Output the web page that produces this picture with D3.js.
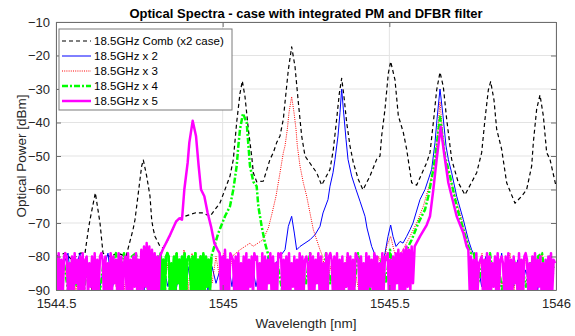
<!DOCTYPE html>
<html>
<head>
<meta charset="utf-8">
<script src="https://cdn.jsdelivr.net/npm/d3@7"></script>
<style>
  body { margin: 0; background: #fff; }
  text { font-family: "Liberation Sans", Arial, sans-serif; }
</style>
</head>
<body>
<div id="chart"></div>
<script>
// ----------- DATA ------------
const xTicks = [1544.5, 1545, 1545.5, 1546];
const xTickLabels = ['1544.5', '1545', '1545.5', '1546'];
const yTicks = [-90, -80, -70, -60, -50, -40, -30, -20, -10];
const legendLabels = ['18.5GHz Comb (x2 case)', '18.5GHz x 2', '18.5GHz x 3', '18.5GHz x 4', '18.5GHz x 5'];

// comb (x2 case), [wavelength nm, dBm]
const combPts = [
  [1544.500, -80], [1544.527, -79], [1544.548, -81], [1544.572, -79], [1544.587, -79],
  [1544.597, -72], [1544.602, -69], [1544.618, -61], [1544.632, -70], [1544.641, -79],
  [1544.662, -80], [1544.686, -79], [1544.710, -80], [1544.731, -72], [1544.737, -69],
  [1544.747, -61], [1544.757, -53], [1544.762, -51.2], [1544.772, -56], [1544.782, -62],
  [1544.787, -69], [1544.791, -71.5], [1544.797, -74], [1544.812, -77], [1544.821, -77.5],
  [1544.836, -75], [1544.863, -69], [1544.887, -68], [1544.917, -67], [1544.941, -67],
  [1544.962, -68], [1544.992, -64], [1545.022, -56], [1545.032, -51], [1545.042, -40],
  [1545.052, -31.3], [1545.059, -27.6], [1545.067, -32.3], [1545.077, -42], [1545.087, -50],
  [1545.092, -55], [1545.102, -57.7], [1545.122, -57.5], [1545.142, -51], [1545.152, -49],
  [1545.162, -46], [1545.172, -44], [1545.182, -39], [1545.187, -34], [1545.197, -24.3],
  [1545.207, -17.4], [1545.217, -23.3], [1545.227, -34], [1545.237, -44], [1545.247, -50],
  [1545.282, -55], [1545.297, -58.7], [1545.322, -54], [1545.332, -48], [1545.342, -39],
  [1545.350, -31.3], [1545.357, -26.8], [1545.364, -32.3], [1545.372, -40], [1545.382, -47],
  [1545.392, -52], [1545.407, -57], [1545.421, -60.1], [1545.442, -56], [1545.462, -51],
  [1545.472, -50], [1545.477, -44], [1545.487, -36], [1545.497, -25.3], [1545.504, -21.8],
  [1545.517, -27.3], [1545.527, -38], [1545.542, -43], [1545.552, -48], [1545.567, -58],
  [1545.582, -58.7], [1545.612, -52], [1545.622, -49], [1545.632, -40], [1545.642, -30.3],
  [1545.652, -25], [1545.662, -29.3], [1545.672, -39], [1545.682, -47], [1545.687, -51],
  [1545.707, -58], [1545.727, -61.6], [1545.762, -55], [1545.777, -49], [1545.787, -39],
  [1545.797, -30.3], [1545.804, -27.8], [1545.814, -33.3], [1545.822, -42], [1545.837, -48],
  [1545.852, -58], [1545.877, -64.1], [1545.897, -62], [1545.912, -60], [1545.927, -53],
  [1545.932, -46], [1545.942, -36], [1545.952, -31.8], [1545.962, -38], [1545.972, -49],
  [1545.982, -51], [1546.000, -59]
];

// x2 (blue)
const x2PeakA = [
  [1545.172, -80], [1545.187, -78], [1545.197, -71], [1545.207, -68], [1545.215, -73],
  [1545.222, -78], [1545.232, -77], [1545.247, -76], [1545.262, -75], [1545.277, -73.5],
  [1545.292, -71], [1545.301, -67], [1545.316, -63], [1545.322, -59], [1545.331, -55],
  [1545.337, -51], [1545.346, -44], [1545.352, -37], [1545.357, -30], [1545.362, -36],
  [1545.370, -45], [1545.376, -51], [1545.387, -56], [1545.400, -60], [1545.412, -63.5],
  [1545.427, -68], [1545.433, -71.5], [1545.447, -77], [1545.457, -79.5]
];
const x2PeakB = [
  [1545.487, -79], [1545.496, -74], [1545.504, -70.6], [1545.511, -74], [1545.520, -77],
  [1545.532, -75.5], [1545.541, -76], [1545.552, -74], [1545.562, -72], [1545.571, -70],
  [1545.592, -63], [1545.607, -60], [1545.627, -54], [1545.637, -46], [1545.643, -39],
  [1545.652, -30], [1545.661, -38], [1545.670, -47], [1545.677, -51], [1545.687, -55],
  [1545.702, -62], [1545.722, -69], [1545.737, -75], [1545.747, -78], [1545.757, -80]
];
const x2Noise1 = [-84, -89, -82, -79, -90, -83, -79, -88, -84, -90,
  -82, -89, -83, -79, -90, -84, -88, -82, -90, -83,
  -89, -84, -90, -82, -88, -83, -90, -84, -89, -82,
  -90, -84, -88, -83, -90, -85, -89, -84, -90, -83,
  -88, -84, -90, -82, -89, -80, -88, -83, -90, -82,
  -89, -83, -90, -80, -88, -82];
const x2Noise2 = [-84, -90, -82];
const x2Noise3 = [-82, -89, -80, -90, -84, -88, -79, -90, -83, -89,
  -81, -90, -84, -88, -80, -90, -83, -89, -82, -85];

// x3 (red)
const x3PeakA = [
  [1545.052, -78], [1545.067, -77], [1545.082, -76], [1545.091, -77], [1545.106, -76],
  [1545.121, -75], [1545.137, -71.5], [1545.147, -67.6], [1545.160, -62], [1545.172, -55],
  [1545.182, -49], [1545.187, -47], [1545.194, -42], [1545.199, -37], [1545.207, -32.3],
  [1545.214, -37], [1545.220, -42], [1545.224, -47], [1545.232, -53], [1545.242, -58],
  [1545.252, -62], [1545.262, -67], [1545.272, -72], [1545.282, -75], [1545.292, -78]
];
const x3PeakB = [
  [1545.541, -78], [1545.562, -74], [1545.582, -70], [1545.602, -65], [1545.622, -58],
  [1545.637, -52], [1545.645, -43], [1545.652, -33.8], [1545.660, -43], [1545.667, -50],
  [1545.677, -55], [1545.697, -62], [1545.717, -69], [1545.732, -75], [1545.742, -78]
];
const x3Noise1 = [-84, -90, -83, -88, -85, -90, -82, -89, -84, -90,
  -83, -88, -85, -90, -82, -89, -84, -90, -83, -88,
  -85, -90, -82, -89, -84, -90, -83, -88, -82, -90,
  -79, -88, -78, -90, -79, -87, -80, -89, -81, -88,
  -80, -87, -79, -88, -80, -79];
const x3Noise2 = [-80, -88, -83, -90, -82, -89, -80, -88, -84, -90,
  -82, -88, -81, -86, -80, -84, -77, -74, -79, -80];
const x3Noise3 = [-80, -86, -79, -90, -83, -88, -80, -89, -84, -79,
  -90, -82, -88, -80, -90, -83, -87, -79, -89, -82, -84];

// x4 (green)
const x4PeakA = [
  [1544.972, -78], [1544.987, -73], [1545.007, -68], [1545.022, -65], [1545.032, -60],
  [1545.042, -53], [1545.047, -47], [1545.052, -42], [1545.061, -37.3], [1545.072, -40],
  [1545.082, -53], [1545.092, -57.7], [1545.102, -59], [1545.107, -65], [1545.117, -71],
  [1545.127, -76], [1545.137, -79.6]
];
const x4PeakB = [
  [1545.552, -78], [1545.567, -75], [1545.587, -70], [1545.607, -66], [1545.617, -62],
  [1545.632, -54], [1545.642, -47], [1545.652, -38.3], [1545.667, -50], [1545.682, -56],
  [1545.702, -65], [1545.722, -72], [1545.737, -77], [1545.745, -79]
];
const x4Noise1 = [-84, -88, -82, -90, -81, -89, -83, -90, -82, -88,
  -84, -90, -81, -89, -82, -79, -88, -79, -90, -80,
  -79, -89, -82, -90, -81, -90];
const x4Noise2 = [-80, -91, -79, -90, -81, -93, -80, -79, -80, -91,
  -82, -90, -80, -92, -79, -88, -81, -91, -80, -90,
  -79, -93, -81, -80, -81, -92, -80, -90, -79, -94,
  -81, -90, -80, -91, -79, -92, -80, -89, -81, -90,
  -80];
const x4Noise3 = [-81, -88, -83, -90, -82, -89, -84, -90, -82, -88,
  -79, -89, -83, -90, -79, -88, -82, -90, -83, -89,
  -82, -90, -79, -88, -82, -90, -81, -89, -80, -88,
  -78, -86, -80, -84];
const x4Noise4 = [-79, -88, -83, -90, -79, -89, -82, -90, -84, -88,
  -81, -90, -83, -89, -82, -90, -80, -79, -88, -80, -84];

// x5 (magenta)
const x5PeakA = [
  [1544.820, -78], [1544.840, -74], [1544.860, -69.6], [1544.870, -68.6], [1544.878, -69],
  [1544.885, -60], [1544.895, -52], [1544.900, -46], [1544.910, -39.5], [1544.920, -44],
  [1544.928, -53], [1544.935, -60], [1544.945, -62], [1544.955, -67], [1544.965, -71],
  [1544.975, -76], [1544.985, -78]
];
const x5PeakB = [
  [1545.576, -77], [1545.592, -74], [1545.612, -70.6], [1545.622, -68], [1545.632, -60],
  [1545.642, -51], [1545.654, -41.3], [1545.664, -49], [1545.677, -58], [1545.687, -62],
  [1545.702, -68], [1545.722, -73], [1545.732, -77]
];
const x5Noise1 = [-80, -92, -79, -90, -81, -93, -80, -79, -80, -91,
  -82, -90, -80, -94, -79, -88, -81, -92, -80, -90,
  -79, -93, -81, -80, -92, -82, -89, -80, -95, -79,
  -91, -81, -90, -80, -79, -81, -92, -80, -90, -82,
  -93, -79, -91, -80, -88, -81, -92, -79, -90, -80,
  -94, -82, -80, -91, -79, -90, -81, -93, -80, -89,
  -79, -92, -81, -90, -78, -91, -77, -89, -76, -90,
  -77, -92, -78, -91, -79, -90, -80, -93, -80];
const x5Noise2 = [-79, -91, -80, -93, -78, -90, -81, -92, -79, -80,
  -81, -92, -80, -90, -79, -94, -82, -90, -80, -91,
  -79, -93, -81, -89, -80, -92, -79, -81, -80, -91,
  -82, -90, -79, -94, -80, -91, -81, -88, -79, -92,
  -80, -90, -82, -93, -79, -80, -79, -91, -81, -90,
  -80, -95, -79, -91, -82, -89, -80, -92, -81, -90,
  -79, -93, -80, -91, -81, -80, -82, -90, -79, -94,
  -80, -91, -81, -88, -79, -92, -80, -90, -82, -93,
  -79, -91, -80, -79, -81, -92, -80, -90, -79, -94,
  -81, -90, -80, -92, -82, -89, -79, -91, -80, -93,
  -81, -90, -79, -80, -81, -92, -80, -90, -82, -94,
  -79, -91, -80, -89, -81, -93, -79, -90, -80, -92,
  -82, -91, -79, -90, -80, -81, -79, -93, -81, -90,
  -80, -92, -79, -88, -78, -91, -79, -90, -78, -93,
  -77, -89, -78, -90, -77, -88];
const x5Noise3 = [-78, -90, -80, -93, -81, -91, -79, -90, -82, -81,
  -80, -92, -81, -90, -79, -94, -80, -91, -82, -89,
  -80, -93, -79, -90, -81, -80, -82, -92, -80, -90,
  -79, -94, -81, -91, -80, -88, -82, -92, -79, -90,
  -81, -93, -80, -79, -81, -91, -82, -90, -80, -94,
  -79, -91, -81, -89, -80, -92, -82, -90, -81, -93,
  -80, -91, -79, -90, -81, -82];

// noise blocks are sampled on a regular grid: [values, start nm, step nm]
function grid(values, start, step) {
  return values.map((v, i) => [start + i * step, v]);
}

const series = [
  { key: 'comb', color: '#000000', width: 1.2, dash: '4,3',
    pts: combPts, solid: [] },
  { key: 'x2', color: '#0000ff', width: 1, dash: null,
    pts: [].concat(grid(x2Noise1, 1544.5, 0.012), x2PeakA, grid(x2Noise2, 1545.464, 0.008), x2PeakB, grid(x2Noise3, 1545.765, 0.012)),
    solid: [] },
  { key: 'x3', color: '#ff0000', width: 1, dash: '1,1.2',
    pts: [].concat(grid(x3Noise1, 1544.5, 0.012), x3PeakA, grid(x3Noise2, 1545.3, 0.012), x3PeakB, grid(x3Noise3, 1545.754, 0.012)),
    solid: [] },
  { key: 'x4', color: '#00ff00', width: 2.5, dash: '6,2,2,2',
    pts: [].concat(grid(x4Noise1, 1544.5, 0.012), grid(x4Noise2, 1544.806, 0.004), x4PeakA, grid(x4Noise3, 1545.142, 0.012), x4PeakB, grid(x4Noise4, 1545.754, 0.012)),
    // dense noise floor renders as a solid band
    solid: [grid(x4Noise2, 1544.806, 0.004)] },
  { key: 'x5', color: '#ff00ff', width: 2.5, dash: null,
    pts: [].concat(grid(x5Noise1, 1544.5, 0.004), x5PeakA, grid(x5Noise2, 1544.991, 0.004), x5PeakB, grid(x5Noise3, 1545.737, 0.004)),
    solid: [] }
];

// ----------- SVG ------------
const W = 575, H = 336;
const margin = { top: 22, right: 19, bottom: 46, left: 56 };
const cw = W - margin.left - margin.right;
const ch = H - margin.top - margin.bottom;

const svg = d3.select('#chart').append('svg').attr('width', W).attr('height', H);

const x = d3.scaleLinear().domain([1544.5, 1546]).range([0, cw]);
const y = d3.scaleLinear().domain([-90, -10]).range([ch, 0]);

const g = svg.append('g').attr('transform', `translate(${margin.left},${margin.top})`);

svg.append('defs').append('clipPath').attr('id', 'plotClip')
  .append('rect').attr('width', cw).attr('height', ch);

// grid
g.append('g').selectAll('line').data(yTicks).enter().append('line')
  .attr('x1', 0).attr('x2', cw)
  .attr('y1', d => y(d)).attr('y2', d => y(d))
  .attr('stroke', '#e3e3e3').attr('stroke-width', 1);
g.append('g').selectAll('line').data(xTicks).enter().append('line')
  .attr('y1', 0).attr('y2', ch)
  .attr('x1', d => x(d)).attr('x2', d => x(d))
  .attr('stroke', '#e3e3e3').attr('stroke-width', 1);

// lines
const line = d3.line().x(d => x(d[0])).y(d => y(d[1]));
const plot = g.append('g').attr('clip-path', 'url(#plotClip)');
series.forEach(s => {
  plot.append('path')
    .attr('d', line(s.pts))
    .attr('fill', 'none')
    .attr('stroke', s.color)
    .attr('stroke-width', s.width)
    .attr('stroke-linejoin', 'round')
    .attr('stroke-dasharray', s.dash);
  s.solid.forEach(part => {
    plot.append('path')
      .attr('d', line(part))
      .attr('fill', 'none')
      .attr('stroke', s.color)
      .attr('stroke-width', s.width)
      .attr('stroke-linejoin', 'round');
  });
});

// axes (MATLAB style, ticks inside, box)
const axisColor = '#6e6e6e';
g.append('g').attr('transform', `translate(0,${ch})`)
  .call(d3.axisBottom(x).tickValues(xTicks).tickSizeInner(-5).tickSizeOuter(0).tickPadding(9)
    .tickFormat((d, i) => xTickLabels[i]))
  .call(a => a.select('.domain').attr('stroke', axisColor))
  .call(a => a.selectAll('line').attr('stroke', axisColor))
  .call(a => a.selectAll('text').attr('fill', '#262626').style('font-size', '13px'));

g.append('g')
  .call(d3.axisLeft(y).tickValues(yTicks).tickSizeInner(-5).tickSizeOuter(0).tickPadding(6))
  .call(a => a.select('.domain').attr('stroke', axisColor))
  .call(a => a.selectAll('line').attr('stroke', axisColor))
  .call(a => a.selectAll('text').attr('fill', '#262626').style('font-size', '13px'));

g.append('g')
  .call(d3.axisTop(x).tickValues(xTicks).tickSizeInner(-5).tickSizeOuter(0).tickFormat(''))
  .call(a => a.select('.domain').attr('stroke', axisColor))
  .call(a => a.selectAll('line').attr('stroke', axisColor));

g.append('g').attr('transform', `translate(${cw},0)`)
  .call(d3.axisRight(y).tickValues(yTicks).tickSizeInner(-5).tickSizeOuter(0).tickFormat(''))
  .call(a => a.select('.domain').attr('stroke', axisColor))
  .call(a => a.selectAll('line').attr('stroke', axisColor));

// labels
svg.append('text')
  .attr('x', margin.left + cw / 2).attr('y', 17.5)
  .attr('text-anchor', 'middle')
  .style('font-size', '13px').style('font-weight', 'bold').attr('fill', '#000')
  .text('Optical Spectra - case with integrated PM and DFBR filter');

svg.append('text')
  .attr('x', margin.left + cw / 2).attr('y', 328)
  .attr('text-anchor', 'middle')
  .style('font-size', '13.5px').attr('fill', '#262626')
  .text('Wavelength [nm]');

svg.append('text')
  .attr('transform', `translate(26,${margin.top + ch / 2}) rotate(-90)`)
  .attr('text-anchor', 'middle')
  .style('font-size', '13.5px').attr('fill', '#262626')
  .text('Optical Power [dBm]');

// ----------- LEGEND ------------
const lg = svg.append('g').attr('transform', 'translate(59,29)');
lg.append('rect').attr('width', 173).attr('height', 81)
  .attr('fill', '#fff').attr('stroke', '#7a7a7a').attr('stroke-width', 1);
const items = lg.selectAll('.item').data(series).enter().append('g')
  .attr('transform', (d, i) => `translate(0,${12 + i * 15})`);
items.append('line')
  .attr('x1', 3).attr('x2', 32).attr('y1', 0).attr('y2', 0)
  .attr('stroke', d => d.color)
  .attr('stroke-width', d => d.width)
  .attr('stroke-dasharray', d => d.dash);
items.append('text')
  .attr('x', 35).attr('y', 4)
  .style('font-size', '11.5px').attr('fill', '#000')
  .text((d, i) => legendLabels[i]);
</script>
</body>
</html>
